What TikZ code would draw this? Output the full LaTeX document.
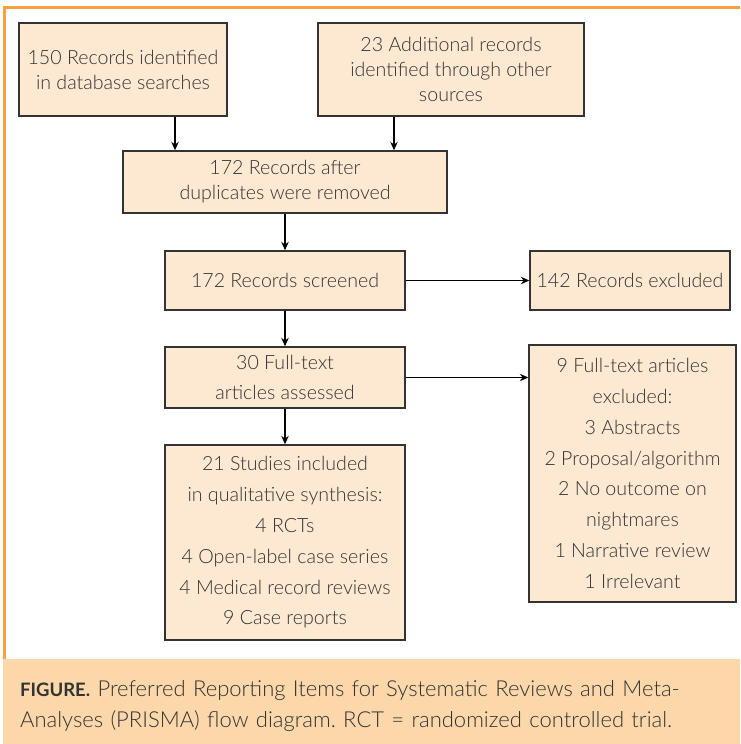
\documentclass[tikz,border=0pt]{standalone}
\usepackage{fontspec}
\setmainfont{Lato}[UprightFont={* Light}, BoldFont={* Bold}]
\usetikzlibrary{arrows.meta}
\definecolor{boxfill}{HTML}{FDE8D2}
\definecolor{capfill}{HTML}{FBD7AA}
\definecolor{framecol}{HTML}{F6A23F}
\definecolor{inkgray}{HTML}{333333}
\frenchspacing
\tikzset{
	box/.style={draw=inkgray, line width=1.4pt, fill=boxfill, text=inkgray, align=center, inner sep=0pt, font=\fontsize{19.6}{25}\selectfont},
	tall/.style={font=\fontsize{19.6}{30.8}\selectfont},
	arr/.style={-{Stealth[length=8.5pt,width=7.5pt]}, line width=1.1pt, black}
}
\begin{document}
\begin{tikzpicture}[x=1pt,y=-1pt]
	\useasboundingbox (0,0) rectangle (740,744);
	% frame and caption band
	\fill[capfill] (3,659) rectangle (740,744);
	\draw[framecol, line width=3pt] (4.5,659) -- (4.5,7) -- (740,7);
	\node [box, minimum width=208pt, minimum height=93pt] (0) at (123, 69.5) {150 Records identified\\in database searches};
	\node [box, minimum width=266pt, minimum height=93pt] (1) at (451, 69.5) {23 Additional records\\identified through other\\sources};
	\node [box, minimum width=324pt, minimum height=62pt] (2) at (285, 182) {172 Records after\\duplicates were removed};
	\node [box, minimum width=240pt, minimum height=59pt] (3) at (285, 280.5) {172 Records screened};
	\node [box, minimum width=200pt, minimum height=59pt] (4) at (630, 280.5) {142 Records excluded};
	\node [box, tall, minimum width=240pt, minimum height=61pt] (5) at (285, 377.5) {30 Full-text\\articles assessed};
	\node [box, tall, minimum width=240pt, minimum height=195pt] (6) at (285, 542.5) {21 Studies included\\in qualitative synthesis:\\4 RCTs\\4 Open-label case series\\4 Medical record reviews\\9 Case reports};
	\node [box, tall, minimum width=207pt, minimum height=257pt] (7) at (632.5, 473.5) {9 Full-text articles\\excluded:\\3 Abstracts\\2 Proposal/algorithm\\2 No outcome on\\nightmares\\1 Narrative review\\1 Irrelevant};
	\node [anchor=north west, text width=715pt, align=left, inner sep=0pt, text=inkgray, font=\fontsize{22}{31.5}\selectfont] (8) at (20, 680) {{\fontsize{18.5}{31.5}\selectfont\textbf{FIGURE.}} Preferred Reporting Items for Systematic Reviews and Meta-\\Analyses (PRISMA) flow diagram. RCT = randomized controlled trial.};
	% edges
	\draw [arr] ([xshift=52pt]0.south) to ([xshift=52pt]0.south |- 2.north);
	\draw [arr] ([xshift=-57pt]1.south) to ([xshift=-57pt]1.south |- 2.north);
	\draw [arr] (2.south) to (3.north);
	\draw [arr] (3.east) to (4.west);
	\draw [arr] (3.south) to (5.north);
	\draw [arr] (5.east) to (7.west |- 5.east);
	\draw [arr] (5.south) to (6.north);
\end{tikzpicture}
\end{document}
